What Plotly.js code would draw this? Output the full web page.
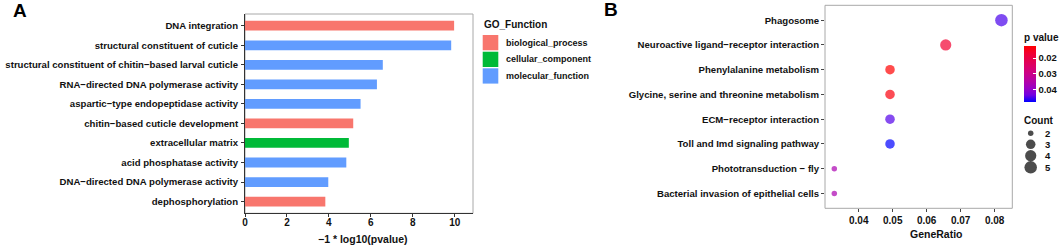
<!DOCTYPE html>
<html>
<head>
<meta charset="utf-8">
<script src="https://cdn.plot.ly/plotly-3.0.1.min.js"></script>
<style>html,body{margin:0;padding:0;background:#fff;}#chart{width:1059px;height:248px;}</style>
</head>
<body>
<div id="chart"></div>
<script>
// ---------- Panel A data (top to bottom) ----------
const goTerms = [
  "DNA integration",
  "structural constituent of cuticle",
  "structural constituent of chitin\u2212based larval cuticle",
  "RNA\u2212directed DNA polymerase activity",
  "aspartic\u2212type endopeptidase activity",
  "chitin\u2212based cuticle development",
  "extracellular matrix",
  "acid phosphatase activity",
  "DNA\u2212directed DNA polymerase activity",
  "dephosphorylation"
];
const goValues = [9.97, 9.83, 6.57, 6.29, 5.51, 5.16, 4.95, 4.83, 3.97, 3.83];
const goGroups = ["biological_process","molecular_function","molecular_function","molecular_function",
  "molecular_function","biological_process","cellular_component","molecular_function",
  "molecular_function","biological_process"];
const groupNames = ["biological_process","cellular_component","molecular_function"];
const groupColors = ["#F8766D","#00BA38","#619CFF"];
const xTicksA = [0, 2, 4, 6, 8, 10];

// ---------- Panel B data (top to bottom) ----------
const pathways = [
  "Phagosome",
  "Neuroactive ligand\u2212receptor interaction",
  "Phenylalanine metabolism",
  "Glycine, serine and threonine metabolism",
  "ECM\u2212receptor interaction",
  "Toll and Imd signaling pathway",
  "Phototransduction \u2212 fly",
  "Bacterial invasion of epithelial cells"
];
const geneRatio = [0.082, 0.0656, 0.0492, 0.0492, 0.0492, 0.0492, 0.0328, 0.0328];
const counts = [5, 4, 3, 3, 3, 3, 2, 2];
const pValues = [0.0450, 0.0169, 0.0123, 0.0135, 0.0446, 0.0478, 0.0361, 0.0361];
const xTicksB = [0.04, 0.05, 0.06, 0.07, 0.08];
const pTicks = [0.02, 0.03, 0.04];
const countLegend = [2, 3, 4, 5];

// ---------- helpers ----------
const W = 1059, H = 248;
const FONT = "Liberation Sans, Arial, sans-serif";
const TXT = "#111";
const px = v => v / W;
const py = v => 1 - v / H;
const cMin = Math.min(...counts), cMax = Math.max(...counts);
// ggplot-like area scale (range 1..6) converted to pixels
const sizeOf = c => 1.4 * (1 + 5 * Math.sqrt((c - cMin) / (cMax - cMin))) + 4.1;
const pMin = 0.0123, pMax = 0.0478;
// Lab-interpolated red->blue gradient (reversed: low value = blue = high p)
const cscale = [
  [0, "#0000FF"], [0.125, "#7300E0"], [0.25, "#9A00C3"], [0.375, "#B500A5"],
  [0.5, "#CA0089"], [0.625, "#DA006C"], [0.75, "#E5004D"], [0.875, "#F20030"], [1, "#FF0000"]
];
const legendY = [133.3, 144.3, 155.7, 167.3];

const traces = [];
groupNames.forEach((g, gi) => {
  const ys = [], xs = [];
  goTerms.forEach((t, i) => { if (goGroups[i] === g) { ys.push(t); xs.push(goValues[i]); } });
  traces.push({
    type: "bar", orientation: "h", x: xs, y: ys, width: 0.5,
    marker: { color: groupColors[gi], line: { width: 0 } },
    xaxis: "x", yaxis: "y", showlegend: false, hoverinfo: "skip"
  });
});

traces.push({
  type: "scatter", mode: "markers", x: geneRatio, y: pathways,
  xaxis: "x2", yaxis: "y2", showlegend: false, hoverinfo: "skip",
  marker: {
    size: counts.map(sizeOf), color: pValues.map(p => -p),
    cmin: -pMax, cmax: -pMin, colorscale: cscale, line: { width: 0 },
    showscale: true,
    colorbar: {
      x: px(1024), xanchor: "left", y: py(102), yanchor: "bottom",
      thickness: 12, thicknessmode: "pixels", len: 72, lenmode: "pixels",
      xpad: 0, ypad: 0,
      outlinewidth: 0, ticks: "inside", ticklen: 3, tickcolor: "#fff", tickwidth: 1,
      tickvals: pTicks.map(p => -p), ticktext: pTicks.map(p => p.toFixed(2)),
      tickfont: { family: FONT, size: 9.5, color: TXT, weight: "bold" },
      ticklabelpad: 2,
      title: { text: "p value", side: "top", font: { family: FONT, size: 10, color: TXT, weight: "bold" } }
    }
  }
});

// Count size legend on a full-page pixel axis
traces.push({
  type: "scatter", mode: "markers",
  x: countLegend.map(() => 1030.7), y: legendY,
  xaxis: "x3", yaxis: "y3", showlegend: false, hoverinfo: "skip", cliponaxis: false,
  marker: { size: countLegend.map(sizeOf), color: "#000", line: { width: 0 } }
});

const tickFontA = { family: FONT, size: 9.6, color: TXT, weight: "bold" };
const numFont = { family: FONT, size: 10, color: TXT, weight: "bold" };

const annotations = [
  { text: "A", x: px(11), y: py(10.5), xanchor: "left", yanchor: "middle", font: { family: FONT, size: 19, color: "#000", weight: "bold" } },
  { text: "B", x: px(602), y: py(10), xanchor: "left", yanchor: "middle", font: { family: FONT, size: 19, color: "#000", weight: "bold" } },
  { text: "\u22121 * log10(pvalue)", x: px(362.5), y: py(239), xanchor: "center", yanchor: "middle", font: { family: FONT, size: 10.5, color: TXT, weight: "bold" } },
  { text: "GeneRatio", x: px(936), y: py(234), xanchor: "center", yanchor: "middle", font: { family: FONT, size: 10.5, color: TXT, weight: "bold" } },
  { text: "GO_Function", x: px(482), y: py(24.7), xanchor: "left", yanchor: "middle", font: { family: FONT, size: 10, color: TXT, weight: "bold" } },
  { text: "Count", x: px(1021.5), y: py(120.7), xanchor: "left", yanchor: "middle", font: { family: FONT, size: 10, color: TXT, weight: "bold" } }
];
const shapes = [
  { type: "rect", xref: "x domain", yref: "y domain", x0: 0, x1: 1, y0: 0, y1: 1, line: { color: "#A8A8A8", width: 1 }, layer: "below" },
  { type: "rect", xref: "x2 domain", yref: "y2 domain", x0: 0, x1: 1, y0: 0, y1: 1, line: { color: "#A8A8A8", width: 1 }, layer: "below" }
];
const swatchTops = [35, 51.7, 68.3];
groupNames.forEach((g, i) => {
  shapes.push({ type: "rect", xref: "paper", yref: "paper", x0: px(482.7), x1: px(498.3),
    y0: py(swatchTops[i]), y1: py(swatchTops[i] + 15.3), fillcolor: groupColors[i], line: { width: 0 } });
  annotations.push({ text: g, x: px(504.3), y: py(swatchTops[i] + 7.7), xanchor: "left", yanchor: "middle",
    font: { family: FONT, size: 9, color: TXT, weight: "bold" } });
});
countLegend.forEach((c, i) => {
  annotations.push({ text: String(c), x: px(1042.5), y: py(legendY[i]), xanchor: "left", yanchor: "middle",
    font: { family: FONT, size: 9.5, color: TXT, weight: "bold" } });
});
annotations.forEach(a => { a.xref = "paper"; a.yref = "paper"; a.showarrow = false; });

const layout = {
  width: W, height: H, margin: { l: 0, r: 0, t: 0, b: 0, autoexpand: false },
  paper_bgcolor: "#fff", plot_bgcolor: "rgba(0,0,0,0)",
  barmode: "overlay", showlegend: false,
  xaxis: {
    domain: [px(245), px(473)], anchor: "y", range: [0, 10.87], tickvals: xTicksA,
    ticks: "outside", ticklen: 3, tickcolor: "#333", showline: true, linecolor: "#333", linewidth: 1,
    showgrid: false, zeroline: false, tickfont: numFont, automargin: false, ticklabelstandoff: -3
  },
  yaxis: {
    domain: [py(213.3), py(14)], anchor: "x", type: "category",
    categoryorder: "array", categoryarray: goTerms.slice().reverse(), range: [-0.6, 9.6],
    ticks: "outside", ticklen: 3, tickcolor: "#333", showline: true, linecolor: "#333", linewidth: 1,
    showgrid: false, zeroline: false, tickfont: tickFontA, ticklabelstandoff: 1, automargin: false
  },
  xaxis2: {
    domain: [px(825), px(1012.3)], anchor: "y2", range: [0.03006, 0.0852], tickvals: xTicksB,
    ticktext: xTicksB.map(v => v.toFixed(2)),
    ticks: "outside", ticklen: 3, tickcolor: "#444", showline: false,
    showgrid: false, zeroline: false, tickfont: numFont, automargin: false
  },
  yaxis2: {
    domain: [py(208.3), py(5.3)], anchor: "x2", type: "category",
    categoryorder: "array", categoryarray: pathways.slice().reverse(), range: [-0.6, 7.6],
    ticks: "outside", ticklen: 3, tickcolor: "#444", showline: false,
    showgrid: false, zeroline: false, tickfont: tickFontA, automargin: false
  },
  xaxis3: { domain: [0, 1], anchor: "y3", range: [0, W], visible: false },
  yaxis3: { domain: [0, 1], anchor: "x3", range: [H, 0], visible: false },
  annotations: annotations, shapes: shapes
};

Plotly.newPlot("chart", traces, layout, { staticPlot: true, displayModeBar: false });
</script>
</body>
</html>
